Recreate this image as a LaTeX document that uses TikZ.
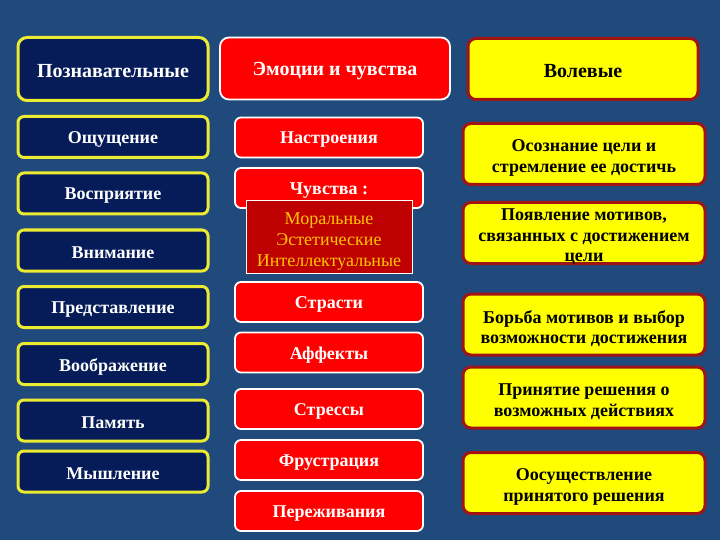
\documentclass[tikz,border=0pt]{standalone}
\usepackage{fontspec}
\setmainfont{Liberation Serif}
\definecolor{bgblue}{RGB}{33,74,124}
\definecolor{navy}{RGB}{6,28,88}
\definecolor{yborder}{RGB}{235,235,50}
\definecolor{redfill}{RGB}{255,0,0}
\definecolor{darkred}{RGB}{190,0,0}
\definecolor{ybox}{RGB}{255,255,0}
\definecolor{rborder}{RGB}{160,20,20}
\definecolor{gold}{RGB}{255,200,0}
\newcommand\boxtext[4]{%
  \node[#1] (#2) at (#3) {};
  \node[#1 txt] (#2-t) at ([yshift=-2.5pt]#2.center) {#4};}
\begin{document}
\begin{tikzpicture}[x=1pt,y=-1pt,
  lbox/.style={draw=yborder, line width=3pt, fill=navy, rounded corners=6pt, minimum width=190pt, minimum height=41pt, inner sep=0pt},
  lbox txt/.style={text=white, font=\bfseries\fontsize{18}{20}\selectfont, inner sep=0pt, align=center},
  ltitle/.style={lbox, minimum height=63pt, rounded corners=9pt},
  ltitle txt/.style={lbox txt, font=\bfseries\fontsize{20}{22}\selectfont},
  mbox/.style={draw=white, line width=1.8pt, fill=redfill, rounded corners=6pt, minimum width=188pt, minimum height=40pt, inner sep=0pt},
  mbox txt/.style={text=white, font=\bfseries\fontsize{18}{20}\selectfont, inner sep=0pt, align=center},
  mtitle/.style={mbox, minimum width=230pt, minimum height=62pt, rounded corners=9pt},
  mtitle txt/.style={mbox txt, font=\bfseries\fontsize{20}{22}\selectfont},
  inner/.style={draw=white, line width=1pt, fill=darkred, minimum width=166pt, minimum height=72pt, inner sep=0pt},
  inner txt/.style={text=gold, font=\fontsize{18}{20.7}\selectfont, inner sep=0pt, align=center, yshift=-2pt},
  rbox/.style={draw=rborder, line width=3pt, fill=ybox, rounded corners=8pt, minimum width=242pt, minimum height=61pt, inner sep=0pt},
  rbox txt/.style={text=black, font=\bfseries\fontsize{18}{20.5}\selectfont, inner sep=0pt, align=center, yshift=-1.5pt},
  rtitle/.style={rbox, minimum width=230pt},
  rtitle txt/.style={text=black, font=\bfseries\fontsize{20}{22}\selectfont, inner sep=0pt, align=center}
]
\fill[bgblue] (0,0) rectangle (720,540);
\useasboundingbox (0,0) rectangle (720,540);

% left column
\boxtext{ltitle}{poz}{113,69}{Познавательные}
\boxtext{lbox}{l1}{113,137}{Ощущение}
\boxtext{lbox}{l2}{113,193.5}{Восприятие}
\boxtext{lbox}{l3}{113,250.5}{Внимание}
\boxtext{lbox}{l4}{113,307}{Представление}
\boxtext{lbox}{l5}{113,364}{Воображение}
\boxtext{lbox}{l6}{113,420.5}{Память}
\boxtext{lbox}{l7}{113,471.5}{Мышление}

% middle column
\boxtext{mtitle}{emo}{335,68.5}{Эмоции и чувства}
\boxtext{mbox}{m1}{329,137.5}{Настроения}
\boxtext{mbox}{m2}{329,188}{Чувства :}
\boxtext{inner}{m2i}{329,237}{Моральные\\Эстетические\\Интеллектуальные}
\boxtext{mbox}{m3}{329,302}{Страсти}
\boxtext{mbox}{m4}{329,352.5}{Аффекты}
\boxtext{mbox}{m5}{329,409}{Стрессы}
\boxtext{mbox}{m6}{329,460}{Фрустрация}
\boxtext{mbox}{m7}{329,511}{Переживания}

% right column
\boxtext{rtitle}{vol}{583,69}{Волевые}
\boxtext{rbox}{r1}{584,154}{Осознание цели и\\стремление ее достичь}
\boxtext{rbox}{r2}{584,233}{Появление мотивов,\\связанных с достижением\\цели}
\boxtext{rbox}{r3}{584,324.5}{Борьба мотивов и выбор\\возможности достижения}
\boxtext{rbox}{r4}{584,397.5}{Принятие решения о\\возможных действиях}
\boxtext{rbox}{r5}{584,483}{Оосуществление\\принятого решения}
\end{tikzpicture}
\end{document}
